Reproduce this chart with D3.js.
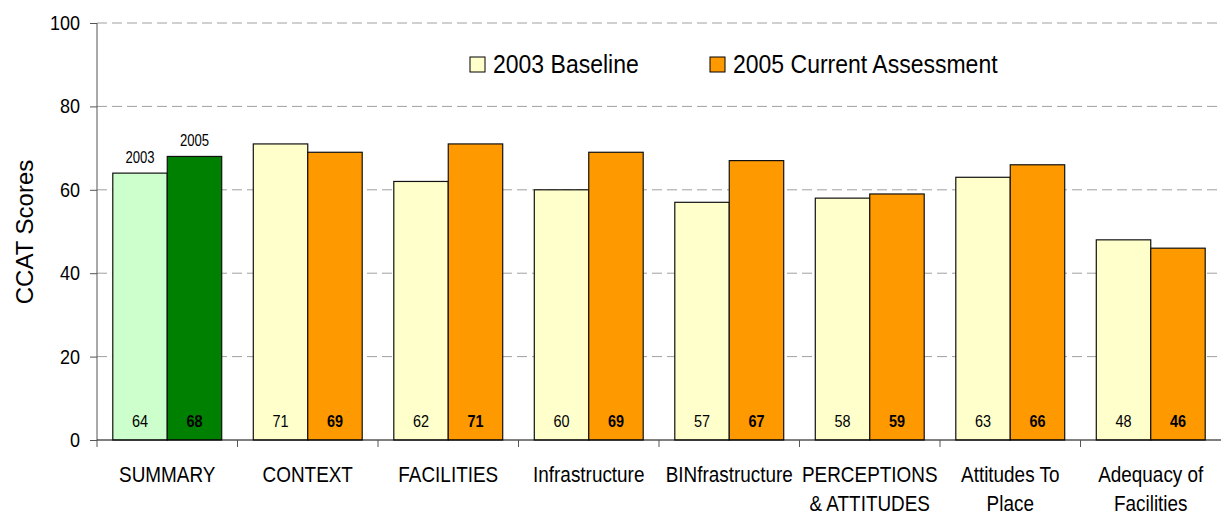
<!DOCTYPE html>
<html lang="en">
<head>
    <meta charset="UTF-8">
    <title>CCAT Scores</title>
    <script src="https://d3js.org/d3.v7.min.js"></script>
    <style>
        body { margin: 0; background: #fff; }
        svg text { font-family: "Liberation Sans", Arial, sans-serif; fill: #000; }
    </style>
</head>
<body>
    <svg width="1221" height="513"></svg>
    <script>
        const categories = [
            ["SUMMARY"], ["CONTEXT"], ["FACILITIES"], ["Infrastructure"], ["BINfrastructure"],
            ["PERCEPTIONS", "& ATTITUDES"], ["Attitudes To", "Place"], ["Adequacy of", "Facilities"]
        ];
        const baseline2003 = [64, 71, 62, 60, 57, 58, 63, 48];
        const current2005 = [68, 69, 71, 69, 67, 59, 66, 46];
        const seriesNames = ["2003 Baseline", "2005 Current Assessment"];
        const summaryTags = ["2003", "2005"];
        const yTicks = [0, 20, 40, 60, 80, 100];

        const svg = d3.select("svg");
        const plotLeft = 97, plotRight = 1221, plotTop = 23, plotBottom = 440;
        const narrow = 0.85; // Arial Narrow look-alike

        const x = d3.scaleBand().domain(d3.range(categories.length)).range([plotLeft, plotRight]);
        const y = d3.scaleLinear().domain([0, 100]).range([plotBottom, plotTop]);
        const inner = d3.scaleBand().domain([0, 1]).range([0, x.bandwidth()]).paddingOuter(0.29).paddingInner(0);

        // squeezed text helper
        function label(g, px, py, txt, size, k, anchor) {
            return g.append("text")
                .attr("transform", `translate(${px},${py}) scale(${k},1)`)
                .attr("text-anchor", anchor || "middle")
                .attr("font-size", size)
                .text(txt);
        }

        // gridlines
        svg.append("g").selectAll("line").data(yTicks.slice(1)).join("line")
            .attr("x1", plotLeft).attr("x2", plotRight)
            .attr("y1", d => y(d)).attr("y2", d => y(d))
            .attr("stroke", "#a0a0a0").attr("stroke-dasharray", "10,5");

        const fill = (s, i) => i === 0 ? (s === 0 ? "#ccffcc" : "#008000") : (s === 0 ? "#ffffcc" : "#ff9900");

        const rows = categories.map((c, i) => [baseline2003[i], current2005[i]]);
        const groups = svg.append("g").selectAll("g").data(rows).join("g")
            .attr("transform", (d, i) => `translate(${x(i)},0)`);

        groups.each(function(vals, i) {
            const g = d3.select(this);
            vals.forEach((v, s) => {
                const cx = inner(s) + inner.bandwidth() / 2;
                g.append("rect")
                    .attr("x", inner(s)).attr("width", inner.bandwidth())
                    .attr("y", y(v)).attr("height", y(0) - y(v))
                    .attr("fill", fill(s, i)).attr("stroke", "#111").attr("stroke-width", 1.2);
                label(g, cx, 427, v, 17, narrow)
                    .attr("font-weight", s === 1 ? "bold" : "normal");
                if (i === 0) label(g, cx, y(v) - 10, summaryTags[s], 16, 0.82);
            });
        });

        // y axis
        const yAxis = svg.append("g").attr("transform", `translate(${plotLeft},0)`)
            .call(d3.axisLeft(y).tickValues(yTicks).tickSize(7).tickPadding(10));
        yAxis.select(".domain").attr("stroke", "#555").attr("d", `M0,${plotTop}V${plotBottom}`);
        yAxis.selectAll(".tick line").attr("stroke", "#555");
        yAxis.selectAll(".tick text").attr("font-size", 20)
            .attr("x", -17 / 0.9).attr("transform", "scale(0.9,1)");

        // x axis
        const xAxis = svg.append("g").attr("transform", `translate(0,${plotBottom})`);
        xAxis.append("line").attr("x1", plotLeft).attr("x2", plotRight).attr("stroke", "#000");
        xAxis.selectAll(".xt").data(d3.range(categories.length)).join("line")
            .attr("x1", d => x(d)).attr("x2", d => x(d)).attr("y1", 0).attr("y2", 7)
            .attr("stroke", "#555");
        categories.forEach((lines, i) => {
            lines.forEach((t, j) => label(xAxis, x(i) + x.bandwidth() / 2, 42 + j * 29, t, 22, 0.86));
        });

        // y label
        svg.append("text")
            .attr("transform", `translate(33,232) rotate(-90)`)
            .attr("text-anchor", "middle").attr("font-size", 24)
            .text("CCAT Scores");

        // legend
        const legendX = [470, 710];
        const legend = svg.append("g").selectAll("g").data(seriesNames).join("g")
            .attr("transform", (d, i) => `translate(${legendX[i]},57)`);
        legend.append("rect").attr("width", 15).attr("height", 15)
            .attr("fill", (d, i) => fill(i, 1)).attr("stroke", "#000");
        legend.each(function(d) { label(d3.select(this), 23, 16, d, 25, 0.92, "start"); });
    </script>
</body>
</html>
